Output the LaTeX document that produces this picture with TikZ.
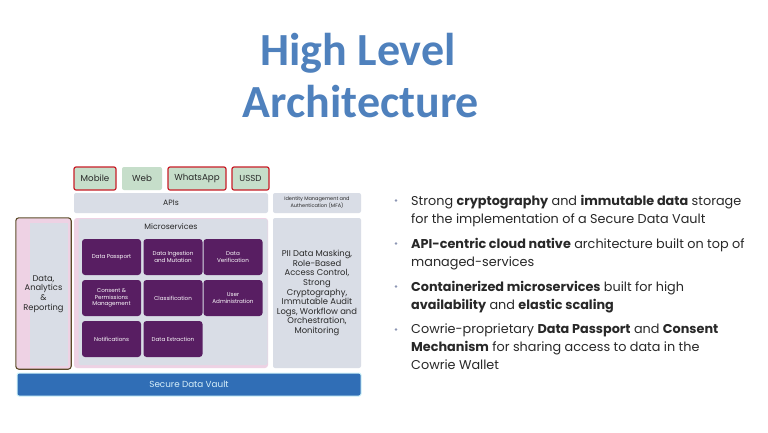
\documentclass[tikz,border=0pt]{standalone}
\usepackage{fontspec}
\setmainfont{Poppins}
\newfontfamily\titlefont{Carlito}

\definecolor{titleblue}{RGB}{79,129,189}
\definecolor{clientgreen}{RGB}{198,222,202}
\definecolor{clientred}{RGB}{200,30,40}
\definecolor{panelgray}{RGB}{217,221,230}
\definecolor{panelpink}{RGB}{238,210,228}
\definecolor{servicepurple}{RGB}{88,30,98}
\definecolor{vaultblue}{RGB}{48,110,182}
\definecolor{vaultglow}{RGB}{210,245,250}
\definecolor{vaulttext}{RGB}{215,240,250}
\definecolor{olive}{RGB}{92,74,40}
\definecolor{bodytext}{RGB}{40,40,40}
\definecolor{dotgray}{RGB}{140,150,180}

\tikzset{
  client/.style={fill=clientgreen, rounded corners=2pt, minimum height=23pt, inner sep=0pt, font=\fontsize{8.7}{10}\selectfont, text=bodytext},
  picked/.style={client, draw=clientred, line width=1.2pt},
  panel/.style={fill=panelgray, rounded corners=2pt, inner sep=0pt, text=bodytext, align=center},
  service/.style={fill=servicepurple, rounded corners=3pt, minimum width=59pt, minimum height=36pt, inner sep=0pt, text=white, align=center, font=\fontsize{5.6}{6.6}\selectfont},
  bullet/.style={circle, fill=dotgray, inner sep=0pt, minimum size=2.6pt},
  point/.style={anchor=north west, align=left, inner sep=0pt, text=bodytext, font=\fontsize{12.8}{18}\selectfont}
}

\begin{document}
\begin{tikzpicture}[x=1pt,y=-1pt]
\useasboundingbox[fill=white] (0,0) rectangle (768,432);

% title
\node[anchor=base, text=titleblue, font=\titlefont\bfseries\fontsize{46}{52}\selectfont] (title1) at (358,65) {High Level};
\node[anchor=base, text=titleblue, font=\titlefont\bfseries\fontsize{46}{52}\selectfont] (title2) at (361,117) {Architecture};

% channels
\node[picked, minimum width=42pt] (mobile) at (95,178.5) {Mobile};
\node[client, minimum width=40pt] (web) at (142,178.5) {Web};
\node[picked, minimum width=58pt] (whatsapp) at (197,178.5) {WhatsApp};
\node[picked, minimum width=37pt] (ussd) at (250.5,178.5) {USSD};

% apis and identity
\node[panel, minimum width=194pt, minimum height=20pt, font=\fontsize{7.7}{9}\selectfont] (apis) at (171,203) {APIs};
\node[panel, minimum width=88pt, minimum height=20pt, font=\fontsize{5}{6}\selectfont] (idm) at (317,203) {Identity Management and\\Authentication (MFA)};

% left column
\node[fill=panelpink, rounded corners=3pt, minimum width=55pt, minimum height=151pt, inner sep=0pt] (analyticsbg) at (43.5,293.5) {};
\node[fill=panelgray, minimum width=38pt, minimum height=143pt, inner sep=0pt] (analyticsin) at (49,294.5) {};
\draw[olive, line width=1.1pt, rounded corners=3pt] (analyticsbg.north west) rectangle (analyticsbg.south east);
\node[text=bodytext, align=center, font=\fontsize{8.3}{9.6}\selectfont] (analytics) at (43.5,294) {Data,\\Analytics\\\&\\Reporting};

% microservices panel
\node[fill=panelpink, rounded corners=3pt, minimum width=194pt, minimum height=150pt, inner sep=0pt] (microbg) at (171,293) {};
\node[panel, minimum width=189pt, minimum height=146pt] (micro) at (173,292) {};
\node[text=bodytext, font=\fontsize{7.8}{9}\selectfont] (microlabel) at (171,227) {Microservices};

\node[service] (passport) at (111.5,257) {Data Passport};
\node[service] (ingest) at (173,257) {Data Ingestion\\and Mutation};
\node[service] (verify) at (233,257) {Data\\Verification};
\node[service] (consent) at (111.5,298) {Consent \&\\Permissions\\Management};
\node[service] (classify) at (173,298) {Classification};
\node[service] (useradmin) at (233,298) {User\\Administration};
\node[service] (notify) at (111.5,339) {Notifications};
\node[service] (extract) at (173,339) {Data Extraction};

% right panel
\node[panel, minimum width=88pt, minimum height=150pt, font=\fontsize{8.4}{9.6}\selectfont] (security) at (317,293) {PII Data Masking,\\Role-Based\\Access Control,\\Strong\\Cryptography,\\Immutable Audit\\Logs, Workflow and\\Orchestration,\\Monitoring};

% vault
\node[fill=vaultblue, draw=vaultglow, line width=1pt, rounded corners=2pt, minimum width=344pt, minimum height=23pt, inner sep=0pt, text=vaulttext, font=\fontsize{8.8}{10}\selectfont] (vault) at (189,384.5) {Secure Data Vault};

% key points
\node[point] (p1) at (411,195) {Strong \textbf{cryptography} and \textbf{immutable data} storage\\for the implementation of a Secure Data Vault};
\node[point] (p2) at (411,238) {\textbf{API-centric cloud native} architecture built on top of\\managed-services};
\node[point] (p3) at (411,281) {\textbf{Containerized microservices} built for high\\\textbf{availability} and \textbf{elastic scaling}};
\node[point] (p4) at (411,324) {Cowrie-proprietary \textbf{Data Passport} and \textbf{Consent}\\\textbf{Mechanism} for sharing access to data in the\\Cowrie Wallet};
\foreach \p in {p1,p2,p3,p4}
  \node[bullet] at ([xshift=-15pt,yshift=-5.5pt]\p.north west) {};
\end{tikzpicture}
\end{document}
